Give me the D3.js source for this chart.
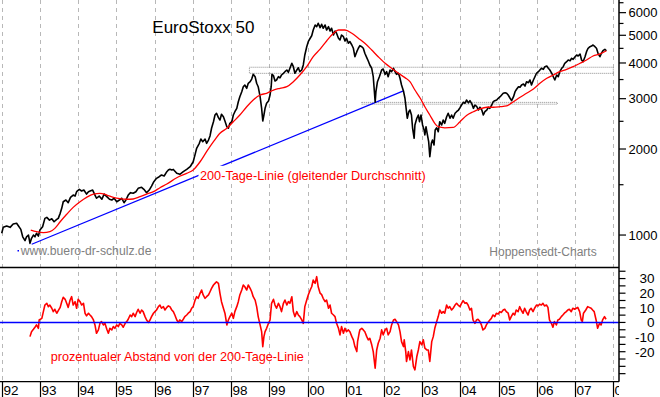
<!DOCTYPE html>
<html><head><meta charset="utf-8">
<script src="https://cdn.jsdelivr.net/npm/d3@7"></script>
<style>
html,body{margin:0;padding:0;background:#fff;}
svg{display:block;font-family:"Liberation Sans",Arial,sans-serif;}
</style></head>
<body>
<svg id="chart" width="660" height="397"></svg>
<script>
// ---------------- data ----------------
const yearTicks = [1992,1993,1994,1995,1996,1997,1998,1999,2000,2001,2002,2003,2004,2005,2006,2007,2008];
const yearLabels = ["92","93","94","95","96","97","98","99","00","01","02","03","04","05","06","07","08"];
const priceTicks = [1000,2000,3000,4000,5000,6000];
const priceMinorTicks = [1500,2500,3500,4500,5500,6500];
const pctTicks = [30,20,10,0,-10,-20];
const pctMinorTicks = [35,25,15,5,-5,-15,-25,-30,-35];

const priceYears = [1992.00,1992.04,1992.13,1992.22,1992.30,1992.39,1992.44,1992.50,1992.55,1992.61,1992.65,1992.70,1992.74,1992.78,1992.83,1992.87,1992.91,1992.96,
1993.00,1993.07,1993.13,1993.18,1993.25,1993.31,1993.37,1993.44,1993.48,1993.53,1993.57,1993.61,1993.68,1993.74,1993.80,1993.87,1993.92,1993.96,
1994.03,1994.09,1994.15,1994.22,1994.27,1994.33,1994.38,1994.44,1994.48,1994.55,1994.62,1994.68,1994.75,1994.82,1994.88,1994.94,
1995.01,1995.08,1995.14,1995.20,1995.25,1995.31,1995.37,1995.44,1995.51,1995.57,1995.66,1995.72,1995.79,1995.86,1995.92,1995.98,
1996.05,1996.12,1996.18,1996.25,1996.32,1996.36,1996.40,1996.45,1996.49,1996.58,1996.66,1996.75,1996.84,1996.93,
1997.01,1997.06,1997.10,1997.17,1997.21,1997.26,1997.32,1997.36,1997.41,1997.45,1997.49,1997.54,1997.58,1997.62,1997.67,1997.71,1997.75,1997.80,1997.84,1997.89,1997.93,1997.97,
1998.02,1998.06,1998.10,1998.15,1998.19,1998.23,1998.28,1998.32,1998.36,1998.41,1998.45,1998.50,1998.54,1998.58,1998.63,1998.67,1998.71,1998.76,1998.80,1998.83,1998.86,1998.89,1998.93,1998.98,
1999.02,1999.05,1999.07,1999.11,1999.15,1999.19,1999.24,1999.28,1999.32,1999.37,1999.41,1999.46,1999.50,1999.54,1999.59,1999.63,1999.67,1999.72,1999.76,1999.80,1999.85,1999.89,1999.93,1999.98,
2000.02,2000.07,2000.11,2000.15,2000.20,2000.24,2000.28,2000.33,2000.37,2000.41,2000.46,2000.50,2000.55,2000.59,2000.63,2000.68,2000.72,2000.76,2000.81,2000.85,2000.89,2000.94,2000.98,
2001.02,2001.07,2001.11,2001.16,2001.20,2001.24,2001.29,2001.33,2001.37,2001.42,2001.46,2001.50,2001.55,2001.59,2001.63,2001.68,2001.72,2001.75,2001.77,2001.79,2001.83,2001.88,2001.94,2001.98,
2002.03,2002.07,2002.11,2002.16,2002.20,2002.25,2002.29,2002.33,2002.38,2002.42,2002.46,2002.51,2002.55,2002.58,2002.61,2002.65,2002.68,2002.72,2002.75,2002.79,2002.81,2002.86,2002.90,2002.93,2002.97,
2003.01,2003.05,2003.07,2003.10,2003.13,2003.17,2003.20,2003.24,2003.27,2003.31,2003.34,2003.38,2003.42,2003.46,2003.51,2003.55,2003.59,2003.64,2003.68,2003.73,2003.77,2003.81,2003.86,2003.90,2003.95,2003.99,
2004.03,2004.08,2004.12,2004.16,2004.21,2004.25,2004.30,2004.34,2004.38,2004.43,2004.47,2004.51,2004.56,2004.60,2004.64,2004.69,2004.73,2004.77,2004.82,2004.86,2004.90,2004.95,2004.99,
2005.04,2005.08,2005.12,2005.17,2005.21,2005.25,2005.30,2005.34,2005.39,2005.43,2005.47,2005.52,2005.56,2005.60,2005.65,2005.69,2005.73,2005.78,2005.82,2005.86,2005.91,2005.95,2005.99,
2006.04,2006.08,2006.12,2006.17,2006.21,2006.26,2006.30,2006.34,2006.39,2006.43,2006.47,2006.52,2006.56,2006.60,2006.65,2006.69,2006.73,2006.78,2006.82,2006.87,2006.91,2006.95,
2007.00,2007.04,2007.08,2007.13,2007.17,2007.21,2007.26,2007.30,2007.34,2007.39,2007.43,2007.47,2007.52,2007.56,2007.60,2007.65,2007.69,2007.73,2007.78,2007.82];
const priceValues = [1014,1064,1075,1064,1093,1099,1075,1047,986,956,986,1000,935,974,1000,986,1014,992,
1041,1069,1144,1153,1128,1140,1113,1134,1144,1191,1240,1308,1326,1298,1355,1380,1369,1418,
1445,1426,1437,1391,1418,1429,1437,1380,1345,1369,1334,1391,1362,1334,1326,1345,
1308,1326,1345,1298,1326,1380,1407,1400,1418,1457,1469,1445,1407,1437,1484,1537,
1579,1600,1622,1609,1666,1689,1700,1690,1697,1644,1631,1666,1697,1734,
1805,1916,2012,2094,2168,2121,2168,2094,2150,2222,2364,2492,2630,2667,2575,2526,2645,2594,2506,2393,2364,2460,
2492,2630,2701,2776,2928,3048,3174,3304,3350,3262,3396,3440,3515,3650,3581,3396,3304,3048,2776,2506,2630,2776,2891,2944,
3090,3304,3650,3610,3460,3487,3581,3550,3631,3681,3729,3780,3710,3833,3990,3882,3681,3780,3850,3729,3780,3936,4266,4560,
4749,4882,4980,5218,5433,5358,5508,5318,5463,5291,5433,5218,5358,5176,5291,5012,5176,5082,4882,4814,5012,4943,4775,
4882,4688,4749,4624,4503,4207,4381,4503,4598,4560,4503,4325,4177,4065,3936,3833,3581,3174,2914,3174,3440,3581,3780,3811,
3650,3729,3581,3780,3729,3833,3729,3650,3681,3536,3350,3192,3010,2776,2562,2701,2738,2630,2364,2180,2427,2562,2630,2492,2630,
2427,2331,2239,2393,2270,2121,1879,2094,2150,2065,2331,2373,2300,2492,2427,2526,2460,2594,2667,2562,2630,2562,2667,2701,2738,2790,
2851,2914,2891,2969,2900,2952,2877,2776,2851,2812,2738,2800,2738,2630,2701,2738,2800,2776,2851,2928,2952,2969,3010,
3048,3090,3133,3148,3133,3090,3010,2952,3048,3174,3236,3304,3288,3350,3377,3322,3440,3413,3487,3350,3487,3581,3681,
3729,3780,3833,3800,3882,3905,3833,3780,3681,3581,3487,3631,3581,3729,3833,3882,3990,4042,4097,4074,4154,4120,
4207,4266,4231,4301,4097,4042,4207,4381,4503,4560,4585,4624,4560,4503,4325,4207,4325,4415,4465,4415];

const maYears = [1992.76,1992.91,1993.09,1993.26,1993.39,1993.53,1993.70,1993.87,1994.05,1994.22,1994.40,1994.57,1994.75,1994.92,
1995.09,1995.27,1995.44,1995.62,1995.79,1995.97,1996.14,1996.32,1996.58,1996.84,1997.01,1997.19,1997.36,1997.54,1997.71,1997.89,
1998.06,1998.23,1998.41,1998.58,1998.76,1998.93,1999.11,1999.28,1999.46,1999.63,1999.80,1999.98,2000.15,2000.33,2000.50,2000.68,2000.81,2000.98,
2001.16,2001.33,2001.50,2001.68,2001.85,2002.03,2002.20,2002.38,2002.55,2002.68,2002.81,2002.95,2003.07,2003.20,2003.33,2003.42,2003.59,2003.81,2003.99,
2004.16,2004.34,2004.51,2004.69,2004.86,2005.04,2005.21,2005.34,2005.52,2005.73,2005.91,2006.08,2006.26,2006.43,2006.60,2006.78,2006.95,
2007.13,2007.30,2007.47,2007.65,2007.82];
const maValues = [1041,1027,1019,1027,1055,1113,1182,1250,1308,1355,1391,1400,1380,1355,
1340,1334,1337,1362,1391,1418,1464,1508,1587,1644,1689,1805,1957,2121,2270,2364,
2492,2630,2812,2969,3090,3133,3217,3262,3304,3440,3631,3882,4207,4470,4775,5082,5218,5218,
5082,4882,4688,4441,4207,3990,3833,3681,3555,3440,3217,3010,2812,2630,2460,2393,2373,2380,2492,
2620,2701,2765,2800,2800,2812,2830,2900,3010,3133,3244,3396,3536,3631,3729,3800,3882,
3990,4097,4231,4301,4415];

const pctYears = [1992.74,1992.78,1992.83,1992.87,1992.91,1992.96,1992.98,1993.05,1993.09,1993.13,1993.18,1993.22,1993.26,1993.31,1993.35,1993.39,1993.44,1993.48,1993.53,1993.57,1993.61,1993.66,1993.70,1993.74,1993.79,1993.83,1993.87,1993.92,1993.96,
1994.00,1994.05,1994.09,1994.14,1994.18,1994.22,1994.27,1994.31,1994.35,1994.40,1994.44,1994.48,1994.53,1994.57,1994.61,1994.66,1994.70,1994.75,1994.79,1994.83,1994.88,1994.92,1994.96,
1995.01,1995.05,1995.09,1995.14,1995.18,1995.23,1995.27,1995.31,1995.36,1995.40,1995.44,1995.49,1995.53,1995.57,1995.62,1995.66,1995.70,1995.75,1995.79,1995.84,1995.88,1995.92,1995.97,
1996.01,1996.05,1996.10,1996.14,1996.18,1996.23,1996.27,1996.32,1996.36,1996.40,1996.45,1996.49,1996.53,1996.58,1996.62,1996.66,1996.71,1996.75,1996.79,1996.84,1996.88,1996.93,1996.97,
1997.01,1997.06,1997.10,1997.14,1997.19,1997.23,1997.27,1997.32,1997.36,1997.41,1997.45,1997.49,1997.54,1997.58,1997.62,1997.67,1997.71,1997.75,1997.80,1997.84,1997.89,1997.93,1997.97,
1998.02,1998.06,1998.10,1998.15,1998.19,1998.23,1998.28,1998.32,1998.36,1998.41,1998.45,1998.50,1998.54,1998.58,1998.63,1998.67,1998.71,1998.76,1998.80,1998.83,1998.86,1998.89,1998.93,1998.98,
1999.02,1999.06,1999.11,1999.15,1999.19,1999.24,1999.28,1999.32,1999.37,1999.41,1999.46,1999.50,1999.54,1999.59,1999.63,1999.67,1999.72,1999.76,1999.80,1999.85,1999.89,1999.93,1999.98,
2000.02,2000.07,2000.11,2000.15,2000.20,2000.24,2000.28,2000.33,2000.37,2000.41,2000.46,2000.50,2000.55,2000.59,2000.63,2000.68,2000.72,2000.76,2000.81,2000.85,2000.89,2000.94,2000.98,
2001.02,2001.07,2001.11,2001.16,2001.20,2001.24,2001.29,2001.31,2001.35,2001.37,2001.42,2001.46,2001.50,2001.55,2001.59,2001.63,2001.68,2001.72,2001.77,2001.81,2001.85,2001.90,2001.94,2001.98,
2002.03,2002.07,2002.11,2002.16,2002.20,2002.25,2002.29,2002.33,2002.38,2002.42,2002.46,2002.51,2002.53,2002.57,2002.59,2002.64,2002.68,2002.72,2002.77,2002.81,2002.86,2002.90,2002.94,2002.99,
2003.03,2003.07,2003.12,2003.16,2003.20,2003.25,2003.29,2003.33,2003.38,2003.42,2003.46,2003.51,2003.55,2003.59,2003.64,2003.68,2003.72,2003.77,2003.81,2003.86,2003.90,2003.94,2003.99,
2004.03,2004.07,2004.12,2004.16,2004.20,2004.25,2004.29,2004.33,2004.38,2004.42,2004.46,2004.51,2004.55,2004.59,2004.64,2004.68,2004.72,2004.77,2004.81,2004.85,2004.90,2004.94,2004.99,
2005.03,2005.07,2005.12,2005.16,2005.20,2005.25,2005.29,2005.33,2005.38,2005.42,2005.46,2005.51,2005.55,2005.59,2005.64,2005.68,2005.72,2005.77,2005.81,2005.85,2005.90,2005.94,2005.99,
2006.03,2006.07,2006.12,2006.16,2006.20,2006.25,2006.29,2006.33,2006.38,2006.42,2006.46,2006.51,2006.55,2006.59,2006.64,2006.68,2006.72,2006.77,2006.81,2006.85,2006.90,2006.94,2006.99,
2007.03,2007.07,2007.12,2007.16,2007.19,2007.22,2007.28,2007.33,2007.37,2007.42,2007.46,2007.50,2007.55,2007.59,2007.64,2007.68,2007.72,2007.77,2007.81];
const pctValues = [-9.7,-6.3,-4.7,-3.3,-1.7,-4.0,1.7,2.8,7.4,11.9,13.1,10.8,11.9,9.7,7.4,9.0,6.3,8.1,10.3,14.2,17.2,15.8,13.1,10.3,15.3,17.6,11.9,14.2,9.7,
15.8,14.2,11.9,13.1,6.3,4.5,6.3,5.1,4.0,1.7,-1.7,-7.4,-5.1,-0.6,0.6,-1.7,-0.6,-4.7,-7.4,-4.0,-5.1,-2.8,-4.0,
-1.7,-2.8,-0.6,-1.7,-3.3,-0.6,0.6,2.2,5.1,4.0,6.3,4.0,6.8,9.0,6.3,8.5,7.4,4.0,1.7,0.0,1.7,4.0,6.3,
7.4,8.5,10.8,11.9,9.7,10.8,8.5,10.3,11.3,10.8,8.5,7.4,5.1,1.7,0.0,1.7,0.6,2.2,4.0,5.1,6.3,7.4,9.7,
10.8,15.3,17.6,16.5,19.9,22.2,18.8,16.5,17.6,18.8,21.0,23.3,25.6,26.7,27.8,26.7,19.9,14.2,9.7,6.3,-1.7,1.7,4.0,
6.3,2.8,7.4,10.8,14.2,18.8,22.2,25.6,24.4,22.2,25.6,23.3,21.0,17.6,15.3,10.8,4.0,-1.7,-6.3,-16.5,-9.7,-6.3,-4.0,-0.6,
1.7,13.1,15.8,11.9,9.7,13.1,10.8,7.4,13.1,15.3,11.9,14.2,13.1,17.6,7.4,4.0,7.4,5.1,4.0,1.7,-0.6,10.8,15.3,
18.8,22.2,24.4,29.0,26.7,31.3,24.4,20.0,19.0,16.5,14.2,15.3,9.7,11.9,6.3,5.1,4.0,-0.6,-4.0,-8.5,-2.8,-7.4,-4.0,
-6.3,-5.1,-6.3,-9.7,-11.9,-16.5,-19.9,-13.1,-7.4,-5.1,-4.0,-5.1,-6.3,-9.7,-11.9,-10.8,-15.3,-19.9,-31.3,-18.8,-14.2,-10.8,-5.1,-8.5,
-5.1,-4.0,-8.5,-6.3,-1.7,1.7,2.2,0.6,-1.7,-6.3,-13.1,-16.5,-11.9,-19.9,-26.7,-19.9,-25.6,-18.8,-30.1,-32.4,-23.3,-18.8,-13.1,-15.3,
-11.9,-17.6,-18.8,-18.8,-26.7,-13.1,-9.7,-4.0,0.6,4.0,8.5,6.3,7.4,6.3,11.9,9.7,10.8,8.5,9.7,11.9,13.1,11.9,10.8,
13.1,14.9,13.1,13.5,11.9,8.5,9.7,1.7,-0.6,1.7,2.2,0.6,-1.7,-5.1,-4.0,-1.7,0.0,1.7,2.8,5.1,4.0,6.3,5.8,
7.4,6.8,8.5,9.0,7.4,6.3,1.7,4.0,6.3,5.1,8.5,7.4,10.8,8.5,6.3,9.7,7.4,5.1,8.5,9.7,7.4,9.7,11.9,
11.3,12.5,11.9,13.1,11.3,11.9,10.3,1.7,-0.6,-3.3,0.6,-1.7,1.7,2.2,4.0,5.1,6.3,7.4,8.5,9.0,7.4,9.7,9.0,
9.7,10.3,7.4,1.7,0.6,6.3,8.5,10.8,10.3,9.7,8.5,7.4,1.7,-4.0,-0.6,-1.7,1.7,4.0,2.2];

// trend line and horizontal resistance/support bands
const trendYears = [1992.785, 2002.525];
const trendValues = [928, 3200];
const bandUpperYears = [1998.48, 2008.0];
const bandUpperValues = [3680, 3865];
const bandLowerYears = [2001.42, 2006.535];
const bandLowerValues = [2870, 2912];

const titleText = "EuroStoxx 50";
const maLabel = "200-Tage-Linie (gleitender Durchschnitt)";
const pctLabel = "prozentualer Abstand von der 200-Tage-Linie";
const siteLabel = "www.buero-dr-schulz.de";
const sourceLabel = "Hoppenstedt-Charts";

// ---------------- layout ----------------
const W = 660, H = 397;
const plotRight = 619;
const mainTop = 0, mainBottom = 267;
const lowTop = 267, lowBottom = 381.7;

const svg = d3.select("#chart");
svg.append("rect").attr("width", W).attr("height", H).attr("fill", "#fff");

const x = d3.scaleLinear().domain([1992, 2008]).range([1.7, 613.3]);
const y = d3.scaleLog().domain([773, 6644]).range([mainBottom, mainTop]);
const yp = d3.scaleLinear().domain([-40.5, 37.9]).range([lowBottom, lowTop]);

const defs = svg.append("defs");
defs.append("clipPath").attr("id", "clipMain").append("rect")
  .attr("x", 0).attr("y", mainTop).attr("width", plotRight).attr("height", mainBottom - mainTop);
defs.append("clipPath").attr("id", "clipLow").append("rect")
  .attr("x", 0).attr("y", lowTop).attr("width", plotRight).attr("height", lowBottom - lowTop);
defs.append("clipPath").attr("id", "clipYears").append("rect")
  .attr("x", 0).attr("y", lowBottom).attr("width", plotRight).attr("height", H - lowBottom);

// gridlines
const grid = svg.append("g").attr("stroke", "#b8b8b8").attr("stroke-width", 1).attr("stroke-dasharray", "4,4");
yearTicks.forEach(t => {
  const gx = Math.round(x(t)) + 0.5;
  grid.append("line").attr("x1", gx).attr("x2", gx).attr("y1", mainTop).attr("y2", lowBottom);
});

const main = svg.append("g").attr("clip-path", "url(#clipMain)");

// bands
function band(years, vals) {
  main.append("rect")
    .attr("x", x(years[0])).attr("y", y(vals[1]))
    .attr("width", x(years[1]) - x(years[0]))
    .attr("height", y(vals[0]) - y(vals[1]))
    .attr("fill", "none").attr("stroke", "#8c8c8c").attr("stroke-width", 1)
    .attr("stroke-dasharray", "1,1");
}
band(bandUpperYears, bandUpperValues);
band(bandLowerYears, bandLowerValues);

// trend line
main.append("line")
  .attr("x1", x(trendYears[0])).attr("y1", y(trendValues[0]))
  .attr("x2", x(trendYears[1])).attr("y2", y(trendValues[1]))
  .attr("stroke", "#0000ff").attr("stroke-width", 1.2);

// white box behind MA label
main.append("rect").attr("x", 198.5).attr("y", 165.8).attr("width", 231).attr("height", 18).attr("fill", "#fff");

// price and moving average
const priceData = priceYears.map((t, i) => [t, priceValues[i]]);
const maData = maYears.map((t, i) => [t, maValues[i]]);
const lineMain = d3.line().x(d => x(d[0])).y(d => y(d[1]));
main.append("path").attr("d", lineMain(priceData)).attr("fill", "none")
  .attr("stroke", "#000").attr("stroke-width", 1.6).attr("stroke-linejoin", "round");
main.append("path").attr("d", d3.line().x(d => x(d[0])).y(d => y(d[1])).curve(d3.curveMonotoneX)(maData)).attr("fill", "none")
  .attr("stroke", "#ff0000").attr("stroke-width", 1.3);

// texts in main panel
svg.append("text").attr("x", 152.3).attr("y", 32.7).attr("font-size", 17).attr("fill", "#000").text(titleText);
svg.append("text").attr("x", 200).attr("y", 180).attr("font-size", 12.7).attr("fill", "#ff0000").text(maLabel);
svg.append("rect").attr("x", 17.5).attr("y", 250).attr("width", 1.5).attr("height", 1.5).attr("fill", "#0000ff");
svg.append("text").attr("x", 20.7).attr("y", 255).attr("font-size", 12.2).attr("fill", "#808080").text(siteLabel);
svg.append("text").attr("x", 489.3).attr("y", 255.7).attr("font-size", 12).attr("fill", "#808080").text(sourceLabel);

// lower panel
const low = svg.append("g").attr("clip-path", "url(#clipLow)");
const pctData = pctYears.map((t, i) => [t, pctValues[i]]);
low.append("path").attr("d", d3.line().x(d => x(d[0])).y(d => yp(d[1]))(pctData)).attr("fill", "none")
  .attr("stroke", "#ff0000").attr("stroke-width", 1.6).attr("stroke-linejoin", "round");
low.append("line").attr("x1", 0).attr("x2", plotRight).attr("y1", yp(0)).attr("y2", yp(0))
  .attr("stroke", "#0000ff").attr("stroke-width", 1.5);
svg.append("text").attr("x", 50.7).attr("y", 360.7).attr("font-size", 12.7).attr("fill", "#ff0000").text(pctLabel);

// frame lines
const frame = svg.append("g").attr("stroke", "#000");
frame.append("line").attr("x1", 0).attr("x2", plotRight).attr("y1", 267.5).attr("y2", 267.5).attr("stroke-width", 1.3);
frame.append("line").attr("x1", 0).attr("x2", plotRight).attr("y1", lowBottom).attr("y2", lowBottom).attr("stroke-width", 1.2);
frame.append("line").attr("x1", plotRight).attr("x2", plotRight).attr("y1", 0).attr("y2", lowBottom).attr("stroke-width", 1.5);

// right axis main (log)
const axMain = svg.append("g");
priceTicks.forEach(v => {
  axMain.append("line").attr("x1", plotRight).attr("x2", plotRight + 7).attr("y1", y(v)).attr("y2", y(v)).attr("stroke", "#000").attr("stroke-width", 1.2);
  axMain.append("text").attr("x", 628.5).attr("y", y(v)).attr("dy", "0.36em").attr("font-size", 13).attr("fill", "#000").text(d3.format("d")(v));
});
priceMinorTicks.forEach(v => {
  axMain.append("line").attr("x1", plotRight).attr("x2", plotRight + 4.5).attr("y1", y(v)).attr("y2", y(v)).attr("stroke", "#000").attr("stroke-width", 1.2);
});

// right axis lower
const axLow = svg.append("g");
pctTicks.concat(pctMinorTicks).forEach(v => {
  axLow.append("line").attr("x1", plotRight).attr("x2", plotRight + 6.5).attr("y1", yp(v)).attr("y2", yp(v)).attr("stroke", "#000").attr("stroke-width", 1.2);
});
pctTicks.forEach(v => {
  axLow.append("text").attr("x", 654.5).attr("y", yp(v)).attr("dy", "0.36em").attr("text-anchor", "end")
    .attr("font-size", 13.5).attr("font-family", "'Liberation Sans Narrow','Arial Narrow',sans-serif")
    .attr("fill", "#000").text(v);
});

// bottom year axis
const axX = svg.append("g").attr("clip-path", "url(#clipYears)");
yearTicks.forEach((t, i) => {
  const tx = Math.round(x(t)) + 0.5;
  axX.append("line").attr("x1", tx).attr("x2", tx).attr("y1", lowBottom).attr("y2", H).attr("stroke", "#000").attr("stroke-width", 1.2);
  axX.append("text").attr("x", tx + 1).attr("y", 395).attr("font-size", 13.5).attr("fill", "#000").text(yearLabels[i]);
});
</script>
</body></html>
